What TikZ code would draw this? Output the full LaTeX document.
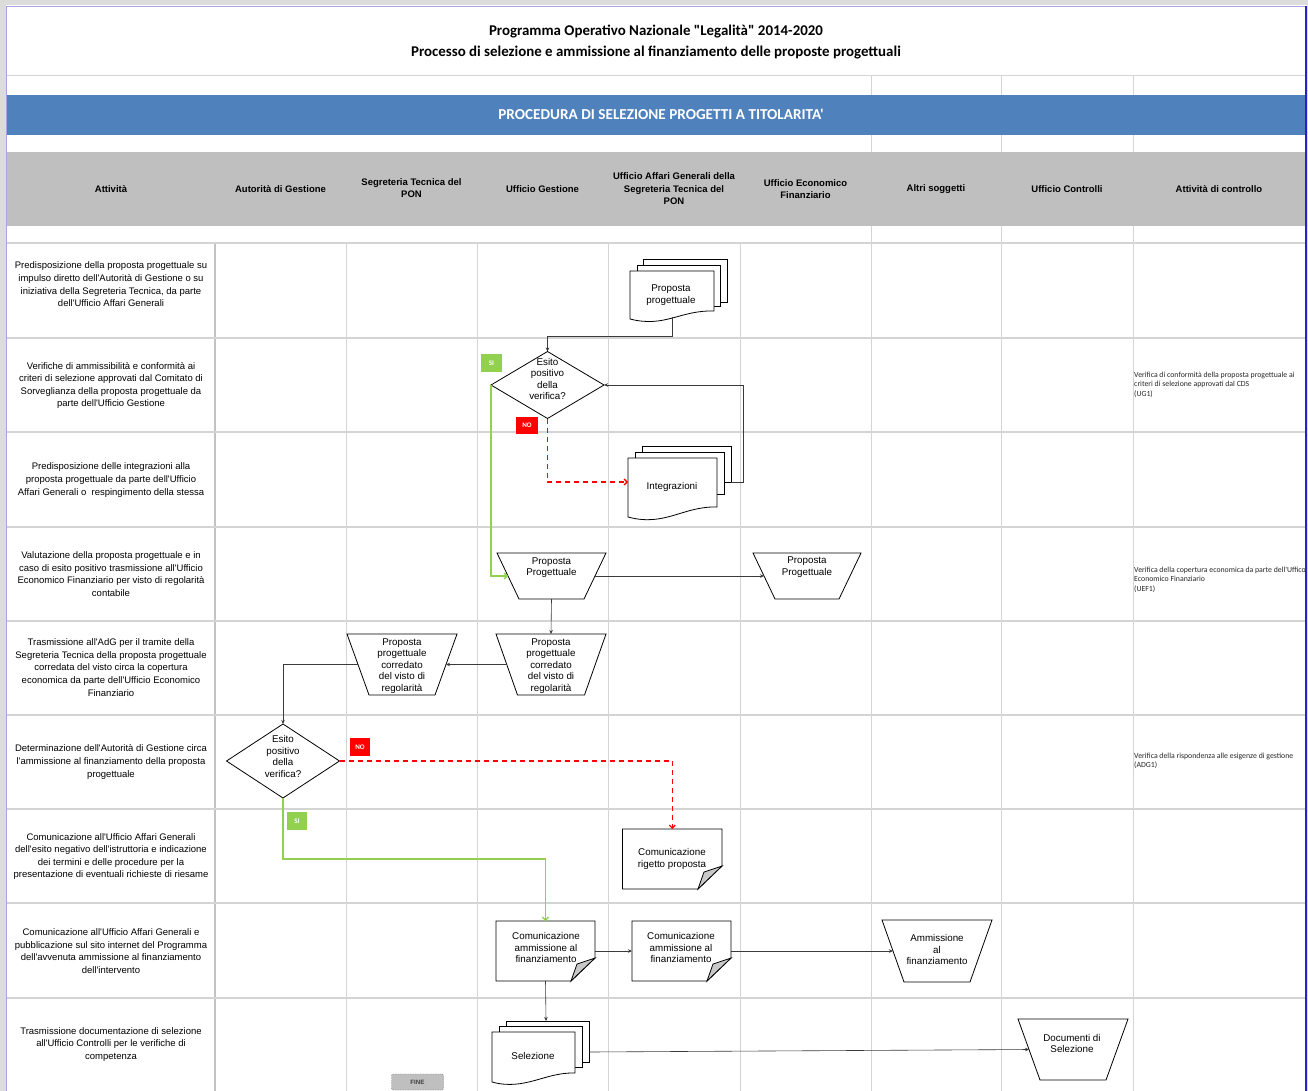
\documentclass[tikz,border=0pt]{standalone}
\usepackage{fontspec}
\setmainfont{Liberation Sans}[Ligatures=TeXOff]
\newfontfamily\calib{Carlito}[Ligatures=TeXOff]
\usetikzlibrary{arrows.meta,shapes.geometric}

\definecolor{band}{HTML}{4F81BD}
\definecolor{hdr}{HTML}{BFBFBF}
\definecolor{grid}{HTML}{D4D4D4}
\definecolor{gridd}{HTML}{C2C2C2}
\definecolor{okgreen}{HTML}{92D050}
\definecolor{nored}{HTML}{FF0000}
\definecolor{lav}{HTML}{A9A3E6}
\definecolor{rblue}{HTML}{2323C8}
\definecolor{marg}{HTML}{DCDCDC}
\definecolor{connc}{HTML}{3A3A3A}
\definecolor{foldc}{HTML}{C8C8C8}

\tikzset{
 rowtxt/.style={align=center, font=\fontsize{9.5}{12.6}\selectfont, inner sep=0pt},
 hdrtxt/.style={align=center, font=\bfseries\fontsize{9.5}{12.5}\selectfont, inner sep=0pt},
 ctltxt/.style={align=left, anchor=west, font=\calib\fontsize{7.8}{9.4}\selectfont, inner sep=0pt, text=black!85},
 shptxt/.style={align=center, font=\fontsize{9.8}{11.4}\selectfont, inner sep=0pt},
 shp/.style={draw=black, line width=0.8pt, fill=white},
 box/.style={inner sep=0pt, outer sep=0pt},
 dia/.style={diamond, shp, inner sep=0pt, outer sep=0pt},
 tag/.style={box, text=white, font=\calib\bfseries\fontsize{7}{7}\selectfont},
 conn/.style={draw=connc, line width=0.6pt, -{Stealth[length=4pt,width=3.5pt]}},
 yes/.style={draw=okgreen, line width=1.3pt, -{Straight Barb[length=3pt,width=6pt]}},
 nope/.style={draw=nored, line width=1.3pt, dash pattern=on 5pt off 4pt, -{Straight Barb[length=3pt,width=6pt]}},
 gl/.style={draw=grid, line width=1pt},
 glr/.style={draw=grid, line width=1.6pt},
}

\newcommand\trapz[2]{\draw[shp] (#1.north west) -- (#1.north east) -- ([xshift=-#2]#1.south east) -- ([xshift=#2]#1.south west) -- cycle;}
\newcommand\folddoc[1]{%
 \draw[shp] (#1.north west) -- (#1.north east) -- ([yshift=23pt]#1.south east) -- ([xshift=-24pt]#1.south east) -- (#1.south west) -- cycle;
 \filldraw[draw=black, line width=0.8pt, fill=foldc] ([xshift=-24pt]#1.south east) -- ([xshift=-18pt,yshift=17pt]#1.south east) -- ([yshift=23pt]#1.south east) -- cycle;}

\begin{document}
\begin{tikzpicture}[x=1pt,y=-1pt]
\useasboundingbox (0,0) rectangle (1308,1091);
% margins and borders
\fill[marg] (0,0) rectangle (1308,5.5);
\fill[marg] (0,0) rectangle (5.5,1091);
\fill[marg] (1307,0) rectangle (1308,1091);
\draw[lav, line width=1.5pt] (6.5,1091) -- (6.5,6.5) -- (1305,6.5);
\draw[rblue, line width=1.5pt] (1306,6) -- (1306,1091);

% bands
\draw[gl] (7,76) -- (1305,76);
\fill[band] (7,95) rectangle (1305,135);
\fill[hdr] (7,152) rectangle (1305,226);
\foreach \x in {871,1001,1133} {
  \draw[gl] (\x,76) -- (\x,95);
  \draw[gl] (\x,135) -- (\x,152);
  \draw[gl] (\x,226) -- (\x,243);
}
% grid
\foreach \x in {346,477,608,740,871,1001,1133} \draw[gl] (\x,243) -- (\x,1091);
\draw[draw=gridd, line width=2pt] (215,243) -- (215,1091);
\foreach \y in {243,338,432,527,621,715,809,903,998} \draw[glr] (7,\y) -- (1305,\y);

% title and band text
\node[align=center, font=\calib\bfseries\fontsize{14.9}{21}\selectfont] (title) at (656,42.5)
 {Programma Operativo Nazionale \symbol{34}Legalità\symbol{34} 2014-2020\\Processo di selezione e ammissione al finanziamento delle proposte progettuali};
\node[font=\calib\bfseries\fontsize{15.2}{16}\selectfont, text=white] (bandtxt) at (661,114) {PROCEDURA DI SELEZIONE PROGETTI A TITOLARITA'};

% headers
\node[hdrtxt] (h1) at (111,189) {Attività};
\node[hdrtxt] (h2) at (280.5,189) {Autorità di Gestione};
\node[hdrtxt] (h3) at (411.5,188) {Segreteria Tecnica del\\PON};
\node[hdrtxt] (h4) at (542.5,189) {Ufficio Gestione};
\node[hdrtxt] (h5) at (674,189) {Ufficio Affari Generali della\\Segreteria Tecnica del\\PON};
\node[hdrtxt] (h6) at (805.5,189) {Ufficio Economico\\Finanziario};
\node[hdrtxt] (h7) at (936,189) {Altri soggetti};
\node[hdrtxt] (h8) at (1067,189) {Ufficio Controlli};
\node[hdrtxt] (h9) at (1219,189) {Attività di controllo};

% activity texts
\node[rowtxt] (r1) at (111,284.5) {Predisposizione della proposta progettuale su\\impulso diretto dell'Autorità di Gestione o su\\iniziativa della Segreteria Tecnica, da parte\\dell'Ufficio Affari Generali};
\node[rowtxt] (r2) at (111,385.5) {Verifiche di ammissibilità e conformità ai\\criteri di selezione approvati dal Comitato di\\Sorveglianza della proposta progettuale da\\parte dell'Ufficio Gestione};
\node[rowtxt] (r3) at (111,480) {Predisposizione delle integrazioni alla\\proposta progettuale da parte dell'Ufficio\\Affari Generali o\ \ respingimento della stessa};
\node[rowtxt] (r4) at (111,574) {Valutazione della proposta progettuale e in\\caso di esito positivo trasmissione all'Ufficio\\Economico Finanziario per visto di regolarità\\contabile};
\node[rowtxt] (r5) at (111,667.5) {Trasmissione all'AdG per il tramite della\\Segreteria Tecnica della proposta progettuale\\corredata del visto circa la copertura\\economica da parte dell'Ufficio Economico\\Finanziario};
\node[rowtxt] (r6) at (111,762) {Determinazione dell'Autorità di Gestione circa\\l'ammissione al finanziamento della proposta\\progettuale};
\node[rowtxt] (r7) at (111,856.5) {Comunicazione all'Ufficio Affari Generali\\dell'esito negativo dell'istruttoria e indicazione\\dei termini e delle procedure per la\\presentazione di eventuali richieste di riesame};
\node[rowtxt] (r8) at (111,951) {Comunicazione all'Ufficio Affari Generali e\\pubblicazione sul sito internet del Programma\\dell'avvenuta ammissione al finanziamento\\dell'intervento};
\node[rowtxt] (r9) at (111,1044.5) {Trasmissione documentazione di selezione\\all'Ufficio Controlli per le verifiche di\\competenza};

% control texts
\node[ctltxt] (k1t) at (1134,384.7) {Verifica di conformità della proposta progettuale ai\\criteri di selezione approvati dal CDS\\(UG1)};
\node[ctltxt] (k2t) at (1134,579.5) {Verifica della copertura economica da parte dell'Uffico\\Economico Finanziario\\(UEF1)};
\node[ctltxt] (k3t) at (1134,761) {Verifica della rispondenza alle esigenze di gestione\\(ADG1)};

% multi-document: Proposta progettuale
\draw[shp] (643,259) rectangle (727,302);
\draw[shp] (637,265) rectangle (720,306);
\draw[shp] (630,271) -- (714,271) -- (714,311) .. controls (680,310) and (665,328) .. (630,319) -- cycle;
\node[shptxt] (m1) at (671,295) {Proposta\\progettuale};
\coordinate (m1s) at (672,317);

% diamond 1
\node[dia, minimum width=113pt, minimum height=67pt] (d1) at (547.5,385) {};
\node[shptxt] (d1t) at (547.5,379) {Esito\\positivo\\della\\verifica?};

% multi-document: Integrazioni
\draw[shp] (642,446) rectangle (731,482);
\draw[shp] (635,452) rectangle (724,494);
\draw[shp] (628,458) -- (717,458) -- (717,507) .. controls (683,506) and (665,527) .. (628,517) -- cycle;
\node[shptxt] (m2) at (672,487) {Integrazioni};
\coordinate (m2w) at (628,482);
\coordinate (m2e) at (731,482);

% trapezoids
\node[box, minimum width=109pt, minimum height=46pt] (t1) at (551.5,576) {}; \trapz{t1}{22pt}
\node[shptxt] (t1t) at (551.5,567.5) {Proposta\\Progettuale};
\node[box, minimum width=108pt, minimum height=46pt] (t2) at (807,576) {}; \trapz{t2}{22pt}
\node[shptxt] (t2t) at (807,567) {Proposta\\Progettuale};
\node[box, minimum width=110pt, minimum height=61pt] (t3) at (551,664.5) {}; \trapz{t3}{21.5pt}
\node[shptxt] (t3t) at (551,666) {Proposta\\progettuale\\corredato\\del visto di\\regolarità};
\node[box, minimum width=110pt, minimum height=61pt] (t4) at (402,664.5) {}; \trapz{t4}{22pt}
\node[shptxt] (t4t) at (402,666) {Proposta\\progettuale\\corredato\\del visto di\\regolarità};

% diamond 2
\node[dia, minimum width=113pt, minimum height=74pt] (d2) at (283,761) {};
\node[shptxt] (d2t) at (283,756.5) {Esito\\positivo\\della\\verifica?};

% folded documents
\node[box, minimum width=99.5pt, minimum height=60pt] (c1) at (672.25,859) {}; \folddoc{c1}
\node[shptxt] (c1t) at (672,859) {Comunicazione\\rigetto proposta};
\node[box, minimum width=99pt, minimum height=60pt] (c2) at (545.5,951) {}; \folddoc{c2}
\node[shptxt] (c2t) at (546,947.5) {Comunicazione\\ammissione al\\finanziamento};
\node[box, minimum width=99pt, minimum height=60pt] (c3) at (681.5,951) {}; \folddoc{c3}
\node[shptxt] (c3t) at (681,947.5) {Comunicazione\\ammissione al\\finanziamento};

\node[box, minimum width=110pt, minimum height=62pt] (t5) at (937,951) {}; \trapz{t5}{22pt}
\node[shptxt] (t5t) at (937,949.5) {Ammissione\\al\\finanziamento};

% multi-document: Selezione
\draw[shp] (506,1021) rectangle (589,1062);
\draw[shp] (499,1026) rectangle (582,1067);
\draw[shp] (492,1032) -- (575,1032) -- (575,1073) .. controls (545,1072) and (525,1091) .. (492,1082) -- cycle;
\node[shptxt] (m3) at (533,1056) {Selezione};
\coordinate (m3n) at (546,1021);
\coordinate (m3e) at (589,1052);

\node[box, minimum width=110pt, minimum height=61pt] (t6) at (1073,1049.5) {}; \trapz{t6}{22pt}
\node[shptxt] (t6t) at (1072,1043.5) {Documenti di\\Selezione};

% FINE
\node[draw=black!55, dash pattern=on 1.5pt off 1pt, fill=hdr, rounded corners=2pt, minimum width=52pt, minimum height=16pt, inner sep=0pt, font=\bfseries\fontsize{6.2}{7}\selectfont, text=black!75] (fine) at (417.5,1082) {FINE};

% tags
\node[tag, fill=okgreen, minimum width=21pt, minimum height=18pt] (si1) at (491.5,363) {SI};
\node[tag, fill=nored, minimum width=22pt, minimum height=17pt] (no1) at (527,425.5) {NO};
\node[tag, fill=nored, minimum width=20pt, minimum height=18pt] (no2) at (360,747) {NO};
\node[tag, fill=okgreen, minimum width=20pt, minimum height=18pt] (si2) at (297,821) {SI};

% connectors
\coordinate (j1) at (547.5,336);
\draw[conn] (m1s) |- (j1) -- (d1.north);
\draw[yes] (d1.west) |- ([xshift=11pt]t1.west);
\draw[nope] (d1.south) |- (m2w);
\coordinate (j2) at (743,482);
\draw[conn] (m2e) -- (j2) |- (d1.east);
\draw[conn] ([xshift=-11pt]t1.east) -- ([xshift=11pt]t2.west);
\draw[conn] (t1.south) -- (t3.north);
\draw[conn] ([xshift=10.75pt]t3.west) -- ([xshift=-11pt]t4.east);
\draw[conn] ([xshift=11pt]t4.west) -| (d2.north);
\draw[nope] (d2.east) -| (c1.north);
\coordinate (g2) at (283,859);
\draw[yes] (d2.south) -- (g2) -| (c2.north);
\draw[conn] (c2.east) -- (c3.west);
\draw[conn] (c3.east) -- ([xshift=11pt]t5.west);
\draw[conn] (c2.south) -- (m3n);
\draw[conn] (m3e) -- ([xshift=11pt]t6.west);
\end{tikzpicture}
\end{document}
